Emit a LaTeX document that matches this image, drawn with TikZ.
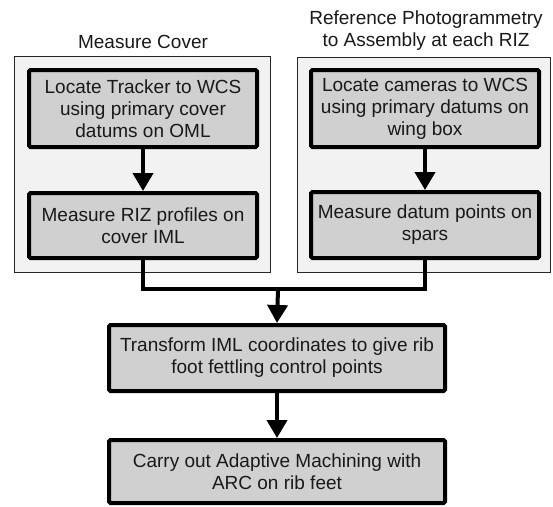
\documentclass[tikz,border=0pt]{standalone}
\usepackage{fontspec}
\setmainfont{Liberation Sans}
\usetikzlibrary{arrows.meta}
\definecolor{boxgray}{RGB}{208,208,208}
\definecolor{groupgray}{RGB}{242,242,242}
\definecolor{txt}{RGB}{25,25,25}
\begin{document}
\begin{tikzpicture}[x=1pt,y=-1pt,
  stepbox/.style={draw=black, fill=boxgray, line width=4pt, rounded corners=1.5pt,
    align=center, text=txt, inner sep=0pt,
    font=\fontsize{19}{22}\selectfont},
  groupbox/.style={draw=black!85, fill=groupgray, line width=1.3pt},
  grouptitle/.style={align=center, text=txt, font=\fontsize{19}{22}\selectfont},
  flow/.style={line width=4pt, -{Triangle[width=20pt,length=18pt]}},
  link/.style={line width=4pt}]
\useasboundingbox (0,0) rectangle (553,506);
% group boxes
\node[groupbox, minimum width=256pt, minimum height=216pt, inner sep=0pt] (gl) at (142.5,164.5) {};
\node[groupbox, minimum width=253pt, minimum height=215pt, inner sep=0pt] (gr) at (424,165) {};
\node[grouptitle] (tl) at (143,42) {Measure Cover};
\node[grouptitle] (tr) at (426,31) {Reference Photogrammetry\\to Assembly at each RIZ};
% steps
\node[stepbox, minimum width=228pt, minimum height=77pt] (L1) at (143,108.5)
  {Locate Tracker to WCS\\using primary cover\\datums on OML};
\node[stepbox, minimum width=228pt, minimum height=65pt] (L2) at (143,225.5)
  {Measure RIZ profiles on\\cover IML};
\node[stepbox, minimum width=228pt, minimum height=77pt] (R1) at (425,108.5)
  {Locate cameras to WCS\\using primary datums on\\wing box};
\node[stepbox, minimum width=228pt, minimum height=66pt] (R2) at (425,225)
  {Measure datum points on\\spars};
\node[stepbox, minimum width=336pt, minimum height=66pt] (T) at (277,358)
  {Transform IML coordinates to give rib\\foot fettling control points};
\node[stepbox, minimum width=336pt, minimum height=63pt] (A) at (277,471.5)
  {Carry out Adaptive Machining with\\ARC on rib feet};
% connectors
\coordinate (j) at (278,289);
\draw[flow] (L1) -- (L2);
\draw[flow] (R1) -- (R2);
\draw[link, line join=miter] (L2.south) |- (j) -| (R2.south);
\draw[flow] (j) -- (T.north);
\draw[flow] (T) -- (A);
\end{tikzpicture}
\end{document}
